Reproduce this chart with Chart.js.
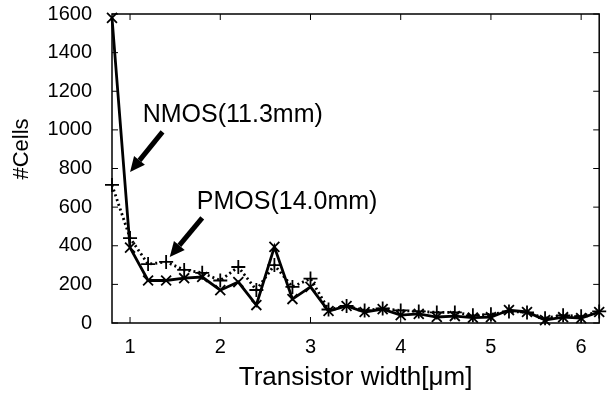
<!DOCTYPE html>
<html>
<head>
<meta charset="utf-8">
<script src="https://cdn.jsdelivr.net/npm/chart.js@4/dist/chart.umd.min.js"></script>
<style>
  html, body { margin: 0; padding: 0; background: #fff; }
  #wrap { width: 608px; height: 395px; }
</style>
</head>
<body>
<div id="wrap"><canvas id="chart"></canvas></div>
<script>
// transistor widths (um)
const widths = [0.8, 1.0, 1.2, 1.4, 1.6, 1.8, 2.0, 2.2, 2.4, 2.6, 2.8, 3.0, 3.2, 3.4,
                3.6, 3.8, 4.0, 4.2, 4.4, 4.6, 4.8, 5.0, 5.2, 5.4, 5.6, 5.8, 6.0, 6.2];
const nmosCells = [1580, 390, 220, 220, 232, 238, 170, 212, 93, 394, 124, 187, 62, 88,
                   57, 72, 41, 47, 31, 36, 28, 30, 67, 57, 15, 30, 25, 57];
const pmosCells = [715, 440, 305, 316, 275, 260, 220, 290, 171, 300, 187, 230, 70, 88,
                   65, 75, 65, 60, 55, 55, 40, 45, 60, 55, 25, 40, 35, 60];
const xTicks = [1, 2, 3, 4, 5, 6];
const yTicks = [0, 200, 400, 600, 800, 1000, 1200, 1400, 1600];

// annotation labels and arrows, in data units
const notes = [
  { text: "NMOS(11.3mm)", at: [1.14, 1078], from: [1.36, 990], to: [1.0, 782] },
  { text: "PMOS(14.0mm)", at: [1.74, 627], from: [1.80, 544], to: [1.44, 342] }
];

const FONT = "'Liberation Sans', Arial, sans-serif";

function drawArrow(ctx, x1, y1, x2, y2) {
  const ang = Math.atan2(y2 - y1, x2 - x1);
  const head = 15, hw = 7;
  const bx = x2 - head * Math.cos(ang), by = y2 - head * Math.sin(ang);
  ctx.beginPath();
  ctx.moveTo(x1, y1);
  ctx.lineTo(bx, by);
  ctx.lineWidth = 5;
  ctx.stroke();
  ctx.beginPath();
  ctx.moveTo(x2, y2);
  ctx.lineTo(bx + hw * Math.sin(ang), by - hw * Math.cos(ang));
  ctx.lineTo(bx - hw * Math.sin(ang), by + hw * Math.cos(ang));
  ctx.closePath();
  ctx.fill();
}

const framePlugin = {
  id: "frame",
  afterDatasetsDraw(chart) {
    const { ctx, chartArea: a, scales: { x, y } } = chart;
    ctx.save();
    ctx.strokeStyle = "#000";
    ctx.fillStyle = "#000";
    ctx.lineWidth = 1.5;
    ctx.strokeRect(a.left, a.top, a.right - a.left, a.bottom - a.top);
    // inward ticks on all four sides
    ctx.lineWidth = 1;
    ctx.beginPath();
    xTicks.forEach(v => {
      const px = x.getPixelForValue(v);
      ctx.moveTo(px, a.bottom); ctx.lineTo(px, a.bottom - 6);
      ctx.moveTo(px, a.top); ctx.lineTo(px, a.top + 6);
    });
    yTicks.forEach(v => {
      const py = y.getPixelForValue(v);
      ctx.moveTo(a.left, py); ctx.lineTo(a.left + 6, py);
      ctx.moveTo(a.right, py); ctx.lineTo(a.right - 6, py);
    });
    ctx.stroke();
    // annotations
    ctx.font = "25px " + FONT;
    ctx.textBaseline = "middle";
    ctx.textAlign = "left";
    notes.forEach(n => {
      ctx.fillText(n.text, x.getPixelForValue(n.at[0]), y.getPixelForValue(n.at[1]));
      drawArrow(ctx,
        x.getPixelForValue(n.from[0]), y.getPixelForValue(n.from[1]),
        x.getPixelForValue(n.to[0]), y.getPixelForValue(n.to[1]));
    });
    // y axis title, sits a bit above the middle in the original
    ctx.font = "22px " + FONT;
    ctx.textAlign = "center";
    ctx.translate(22, 149);
    ctx.rotate(-Math.PI / 2);
    ctx.fillText("#Cells", 0, 0);
    ctx.restore();
  }
};

const toPoints = arr => arr.map((v, i) => ({ x: widths[i], y: v }));

new Chart(document.getElementById("chart"), {
  type: "line",
  data: {
    datasets: [
      {
        label: "NMOS",
        data: toPoints(nmosCells),
        borderColor: "#000",
        borderWidth: 2.8,
        pointStyle: "crossRot",
        pointRadius: 7,
        pointBorderWidth: 1.8,
        pointBorderColor: "#000",
        tension: 0,
        clip: false
      },
      {
        label: "PMOS",
        data: toPoints(pmosCells),
        borderColor: "#000",
        borderWidth: 2.8,
        borderDash: [2, 3],
        pointStyle: "cross",
        pointRadius: 7,
        pointBorderWidth: 1.8,
        pointBorderColor: "#000",
        tension: 0,
        clip: false
      }
    ]
  },
  options: {
    responsive: true,
    maintainAspectRatio: false,
    animation: false,
    layout: { padding: 0 },
    plugins: { legend: { display: false }, tooltip: { enabled: false } },
    scales: {
      x: {
        type: "linear",
        min: 0.8,
        max: 6.2,
        afterBuildTicks: s => { s.ticks = xTicks.map(v => ({ value: v })); },
        afterFit: s => { s.height = 72; s.paddingLeft = 0; s.paddingRight = 2; },
        grid: { display: false, drawTicks: false },
        border: { display: false },
        ticks: { color: "#000", padding: 12, font: { family: FONT, size: 20 }, callback: v => String(v) },
        title: {
          display: true,
          text: "Transistor width[\u03bcm]",
          color: "#000",
          font: { family: FONT, size: 26 },
          padding: { top: 0, bottom: 2 }
        }
      },
      y: {
        min: 0,
        max: 1600,
        afterBuildTicks: s => { s.ticks = yTicks.map(v => ({ value: v })); },
        afterFit: s => { s.width = 112; s.paddingTop = 14; s.paddingBottom = 0; },
        grid: { display: false, drawTicks: false },
        border: { display: false },
        ticks: { color: "#000", padding: 20, font: { family: FONT, size: 20 }, callback: v => String(v) },
        title: { display: false }
      }
    }
  },
  plugins: [framePlugin]
});
</script>
</body>
</html>
